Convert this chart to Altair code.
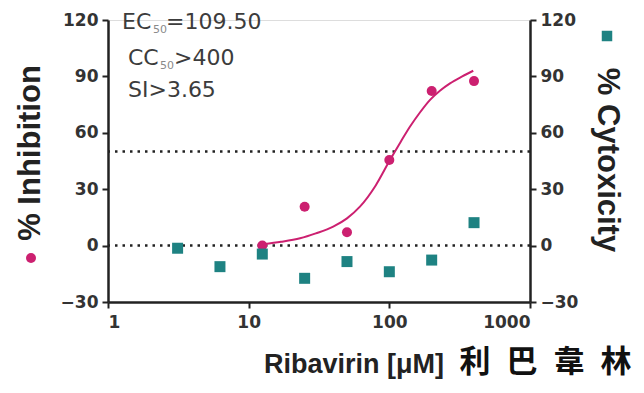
import altair as alt
import pandas as pd

# ---- data ----
conc = [3.125, 6.25, 12.5, 25, 50, 100, 200, 400]
inhib_conc = [12.5, 25, 50, 100, 200, 400]
inhibition = [0.0, 20.7, 7.1, 45.5, 82.2, 87.5]
cytotoxicity = [-1.4, -11.2, -4.5, -17.4, -8.5, -13.9, -7.7, 12.2]

# fitted curve, points
curve_x = [12.7, 17, 23.2, 30, 39.9, 50, 61.8, 80, 101, 120, 140, 165, 194, 230, 270, 330, 395]
curve_y = [0.7, 2.0, 3.9, 6.5, 10.1, 14.5, 20.7, 32.0, 45.5, 55.0, 63.2, 70.8, 77.4, 82.5, 86.3, 90.0, 93.0]

ref_lines = [0, 50]
y_ticks = [-30, 0, 30, 60, 90, 120]
x_ticks = [1, 10, 100, 1000]
cjk_chars = ["利", "巴", "韋", "林"]

MAG = "#cc2070"
TEAL = "#1e8282"

df_inh = pd.DataFrame({"conc": inhib_conc, "val": inhibition})
df_cyt = pd.DataFrame({"conc": conc, "val": cytotoxicity})
df_curve = pd.DataFrame({"conc": curve_x, "val": curve_y})
df_ref = pd.DataFrame({"val": ref_lines})

xscale = alt.Scale(type="log", domain=[1, 1000], nice=False)
yscale = alt.Scale(domain=[-30, 120], nice=False)

xaxis = alt.Axis(values=x_ticks, format="d", title=None, grid=False,
                 domainColor="#222", domainWidth=2.5, tickColor="#222", tickWidth=2,
                 tickSize=6, labelFont="DejaVu Sans", labelFontWeight="bold",
                 labelFontSize=17, labelColor="#333", labelPadding=6)

def yaxis(orient):
    return alt.Axis(orient=orient, values=y_ticks, title=None, grid=False,
                    domainColor="#222", domainWidth=2.5, tickColor="#222", tickWidth=2,
                    tickSize=6, labelFont="DejaVu Sans", labelFontWeight="bold",
                    labelFontSize=17, labelColor="#333", labelPadding=4)

X = alt.X("conc:Q", scale=xscale, axis=xaxis)

refs = alt.Chart(df_ref).mark_rule(color="#222", strokeWidth=2.5, strokeDash=[2.5, 5]).encode(
    y=alt.Y("val:Q", scale=yscale, axis=yaxis("left")))

curve = alt.Chart(df_curve).mark_line(color=MAG, strokeWidth=2, interpolate="monotone").encode(
    x=X, y=alt.Y("val:Q", scale=yscale, axis=yaxis("left")))

pts_inh = alt.Chart(df_inh).mark_point(shape="circle", filled=True, color=MAG, size=100, opacity=1).encode(
    x=X, y=alt.Y("val:Q", scale=yscale, axis=yaxis("left")))

# annotation text
ann_font = "DejaVu Sans"
ann_col = "#3c3c3c"
def txt(s, x, y, size=22, color=ann_col, font=ann_font, weight="normal", align="left", angle=0, baseline="alphabetic"):
    return alt.Chart(pd.DataFrame({"t": [s]})).mark_text(
        font=font, fontSize=size, fontWeight=weight, color=color, align=align,
        baseline=baseline, angle=angle).encode(
        text="t:N", x=alt.value(x), y=alt.value(y))

ann = [
    txt("EC", 14, 9),
    txt("50", 45, 13, size=11, color="#8a8a8a"),
    txt("=109.50", 58, 9),
    txt("CC", 20, 45),
    txt("50", 52, 49, size=11, color="#8a8a8a"),
    txt(">400", 66, 45),
    txt("SI>3.65", 20, 77),
    txt("% Inhibition", -77, 133, size=31, color="#222", font="Liberation Sans", weight="bold",
        align="center", angle=270, baseline="middle"),
    txt("% Cytoxicity", 499, 140, size=31, color="#222", font="Liberation Sans", weight="bold",
        align="center", angle=90, baseline="middle"),
    txt("Ribavirin [μM]", 246, 353, size=27, color="#222", font="Liberation Sans", weight="bold",
        align="center"),
]
cjk_centers = [367, 414, 461, 508]
for ch, cx in zip(cjk_chars, cjk_centers):
    ann.append(txt(ch, cx, 352, size=31, color="#111", font="Noto Sans CJK TC",
                   weight="bold", align="center"))

leg_c = alt.Chart(pd.DataFrame({"a": [0]})).mark_point(shape="circle", filled=True, color=MAG,
                                                      size=100, opacity=1).encode(
    x=alt.value(-77), y=alt.value(238))

left = alt.layer(refs, curve, pts_inh, leg_c, *ann)

pts_cyt = alt.Chart(df_cyt).mark_point(shape="square", filled=True, color=TEAL, size=121, opacity=1).encode(
    x=X, y=alt.Y("val:Q", scale=yscale, axis=yaxis("right")))
leg_s = alt.Chart(pd.DataFrame({"a": [0]})).mark_point(shape="square", filled=True, color=TEAL,
                                                      size=110, opacity=1).encode(
    x=alt.value(499), y=alt.value(16))
right = alt.layer(pts_cyt, leg_s)

chart = alt.layer(left, right).resolve_scale(y="independent").properties(
    width=422, height=282,
    autosize=alt.AutoSizeParams(type="none"),
    padding={"left": 100, "top": 12, "right": 106, "bottom": 80},
).configure_view(stroke=None).configure(background="white")

chart.save("out.html", embed_options={"renderer": "svg", "actions": False})
